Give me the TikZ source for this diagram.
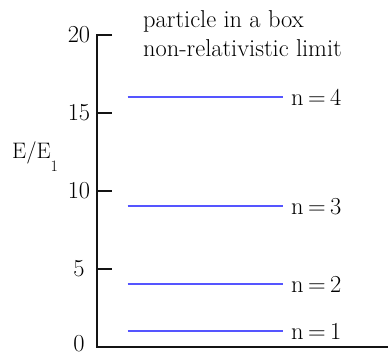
\documentclass[tikz,border=0pt]{standalone}
\usepackage{fontspec}
\definecolor{levelblue}{RGB}{85,85,255}
\definecolor{axisgray}{RGB}{20,20,20}
\begin{document}
\begin{tikzpicture}[x=1bp,y=-1bp,
  axisline/.style={line width=2bp, draw=axisgray, line join=miter},
  levelline/.style={line width=2bp, draw=levelblue},
  lbl/.style={font=\fontsize{24.5}{29}\selectfont, inner sep=0pt, text=black},
]
\useasboundingbox (0,0) rectangle (388,356);
% axis
\coordinate (o) at (96.8,346.5);
\coordinate (top) at (96.8,34.8);
\coordinate (xend) at (389,346.5);
\coordinate (te20) at (112,34.8);
\draw[axisline] (te20) -- (top) -- (o) -- (xend);
\node[lbl] (l20) at (79,34.8) {20};
\foreach \v/\y in {5/268.8,10/190.8,15/112.8}{
  \coordinate (t\v) at (96.8,\y);
  \coordinate (te\v) at (112,\y);
  \draw[axisline] (t\v) -- (te\v);
  \node[lbl] (l\v) at (79,\y) {\v};
}
\node[lbl] (l0) at (79,344) {0};
% axis title
\node[lbl, anchor=base west, font=\fontsize{22.5}{27}\selectfont] (ylab) at (12,158) {E/E\raisebox{-13bp}{\fontsize{16}{16}\selectfont 1}};
% plot title
\node[lbl, anchor=base west] (title1) at (143,27) {particle in a box};
\node[lbl, anchor=base west] (title2) at (143,56) {non-relativistic limit};
% levels
\foreach \n/\y in {1/331.2,2/284.4,3/206.4,4/97.4}{
  \coordinate (a\n) at (127.5,\y);
  \coordinate (b\n) at (283,\y);
  \draw[levelline] (a\n) -- (b\n);
  \node[lbl, anchor=west] (n\n) at (291,\y) {n\hspace{0.18em}=\hspace{0.18em}\n};
}
\end{tikzpicture}
\end{document}
